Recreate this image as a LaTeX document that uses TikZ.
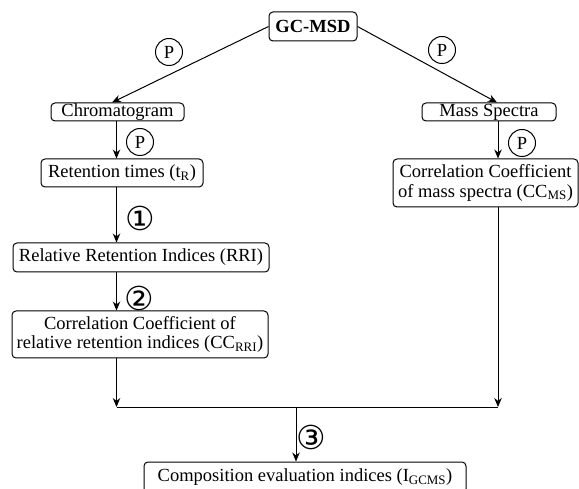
\documentclass[tikz,border=0pt]{standalone}
\usepackage{fontspec}
\setmainfont{Liberation Serif}
\newfontfamily\symfont{DejaVu Sans}
\usetikzlibrary{arrows.meta,calc}
\begin{document}
\begin{tikzpicture}[x=1pt,y=-1pt,
  box/.style={draw,rounded corners=4pt,line width=1pt,inner sep=0pt,align=center,font=\fontsize{18.5}{19.5}\selectfont},
  pc/.style={draw,circle,line width=1pt,inner sep=0pt,minimum size=27pt,font=\fontsize{18.5}{18.5}\selectfont},
  num/.style={inner sep=0pt,font=\symfont\fontsize{33}{33}\selectfont},
  arr/.style={line width=1pt,-{Stealth[length=9pt,width=7.5pt]}},
  ln/.style={line width=1pt}]
\useasboundingbox (0,0) rectangle (579,489);
\clip (0,0) rectangle (579,489);
\node[box,minimum width=88pt,minimum height=29pt,font=\fontsize{18.5}{18.5}\selectfont\bfseries] (gc) at (313,26.5) {GC-MSD};
\node[box,minimum width=133pt,minimum height=18pt] (chrom) at (117.5,112) {Chromatogram};
\node[box,minimum width=134pt,minimum height=18pt] (ms) at (489,112) {Mass Spectra};
\node[box,minimum width=162pt,minimum height=28pt] (ret) at (122,173) {Retention times (t\textsubscript{R})};
\node[box,minimum width=185pt,minimum height=48pt] (ccms) at (485.5,183) {Correlation Coefficient\\of mass spectra (CC\textsubscript{MS})};
\node[box,minimum width=256pt,minimum height=29pt] (rri) at (141,257.5) {Relative Retention Indices (RRI)};
\node[box,minimum width=256pt,minimum height=47pt] (ccrri) at (140,334.5) {Correlation Coefficient of\\relative retention indices (CC\textsubscript{RRI})};
\node[box,minimum width=322pt,minimum height=31pt] (fin) at (305,477.5) {Composition evaluation indices (I\textsubscript{GCMS})};
\node[pc] (p1) at (169,52) {P};
\node[pc] (p2) at (442,50) {P};
\node[pc] (p3) at (140,142) {P};
\node[pc] (p4) at (522,143) {P};
\node[num] (n1) at (140,218) {①};
\node[num] (n2) at (139,298) {②};
\node[num] (n3) at (311,437) {③};
\coordinate (lx) at (116.5,0);
\coordinate (rx) at (498,0);
\coordinate (mx) at (296,0);
\coordinate (jl) at (116.5,407);
\coordinate (jr) at (498,407);
\draw[arr] (gc.west) -- ($(chrom.north)+(-5.5,0)$);
\draw[arr] (gc.east) -- ($(ms.north)+(8,0)$);
\draw[arr] (lx |- chrom.south) -- (lx |- ret.north);
\draw[arr] (rx |- ms.south) -- (rx |- ccms.north);
\draw[arr] (lx |- ret.south) -- (lx |- rri.north);
\draw[arr] (lx |- rri.south) -- (lx |- ccrri.north);
\draw[arr] (lx |- ccrri.south) -- (jl);
\draw[arr] (rx |- ccms.south) -- (jr);
\draw[ln] (jl) -- (jr);
\draw[arr] (mx |- jl) -- (mx |- fin.north);
\end{tikzpicture}
\end{document}
